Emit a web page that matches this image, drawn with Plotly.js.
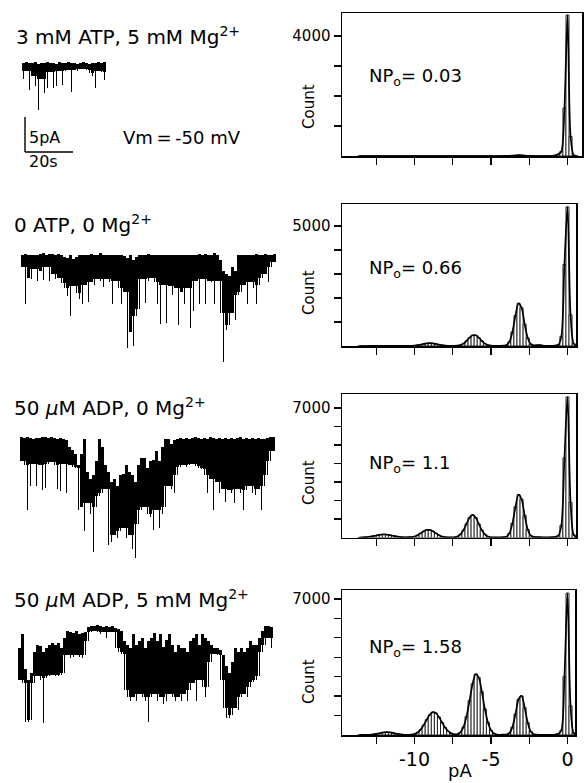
<!DOCTYPE html>
<html><head><meta charset="utf-8">
<script src="https://cdn.plot.ly/plotly-3.0.1.min.js"></script>
<style>html,body{margin:0;padding:0;background:#fff;overflow:hidden}#chart{width:584px;height:783px}</style>
</head><body><div id="chart"></div>
<script>
// ---------- DATA ----------
const conditionLabels = [
  '3 mM ATP, 5 mM Mg<sup>2+</sup>',
  '0 ATP, 0 Mg<sup>2+</sup>',
  '50 <i>\u03bc</i>M ADP, 0 Mg<sup>2+</sup>',
  '50 <i>\u03bc</i>M ADP, 5 mM Mg<sup>2+</sup>'
];
const npoValues = ['0.03', '0.66', '1.1', '1.58'];
const histTopTickLabels = [4000, 5000, 7000, 7000];
const histYMax = [4770, 5920, 7760, 7460];
const xMajorTicks = [-10, -5, 0];
const xMinorTicks = [-12.5, -7.5, -2.5];
const xAxisTitle = 'pA';
const yAxisTitle = 'Count';
const voltageLabel = 'Vm\u2009=\u2009-50 mV';
const scaleBarPA = 5, scaleBarSeconds = 20, sampleInterval = 1.25; // s per trace sample

// amplitude histogram bins (pA)
const binCenters = [-13.6,-13.4,-13.2,-13.0,-12.8,-12.6,-12.4,-12.2,-12.0,-11.8,-11.6,-11.4,-11.2,-11.0,-10.8,-10.6,-10.4,-10.2,-10.0,-9.8,-9.6,-9.4,-9.2,-9.0,-8.8,-8.6,-8.4,-8.2,-8.0,-7.8,-7.6,-7.4,-7.2,-7.0,-6.8,-6.6,-6.4,-6.2,-6.0,-5.8,-5.6,-5.4,-5.2,-5.0,-4.8,-4.6,-4.4,-4.2,-4.0,-3.8,-3.6,-3.4,-3.2,-3.0,-2.8,-2.6,-2.4,-2.2,-2.0,-1.8,-1.6,-1.4,-1.2,-1.0,-0.8,-0.6,-0.4,-0.2,0.0,0.2,0.4,0.6];
const countsATPMg = [0,0,0,0,0,0,0,0,0,0, 0,0,0,0,0,0,0,0,0,0, 0,0,0,0,0,0,0,0,0,0, 0,0,0,0,0,0,0,0,0,0, 0,0,0,0,0,0,0,2,4,6, 10,20,28,25,12,5,2,0,0,0, 0,0,0,2,20,60,150,1600,4700,650,30,0];
const countsNoATP = [0,0,0,0,2,3,3,4,4,3, 3,3,4,4,5,5,6,10,16,33, 58,87,111,120,111,87,58,33,16,8, 5,5,12,37,100,210,347,446,446,347, 210,100,37,12,6,5,6,12,35,171, 584,1272,1775,1590,911,335,80,25,40,40, 20,10,8,10,20,50,400,3400,5800,1300,100,0];
const countsADP = [0,6,16,33,59,94,131,159,170,159, 131,94,59,33,18,12,15,24,57,125, 227,337,410,410,337,227,125,57,21,10, 8,14,53,165,396,741,1076,1220,1076,741, 396,165,53,15,8,6,8,15,42,223, 763,1661,2317,2068,1189,437,103,30,25,15, 10,8,10,15,30,100,650,4300,7600,1900,150,0];
const countsADPMg = [0,2,4,8,20,42,73,109,138,150, 138,109,73,42,22,12,10,20,52,130, 278,507,787,1041,1174,1128,924,644,383,194, 84,35,40,139,406,951,1774,2639,3128,2955, 2227,1337,640,244,74,25,12,18,20,98, 406,1079,1839,2009,1408,633,182,40,20,12, 8,6,8,12,25,60,240,3000,7300,1500,100,0];

// current traces: per sample upper and lower envelope (pA)
const trace1Top = [0.3,0.4,0.3,0.3,0.4,0.2,0.3,0.3,0.4,0.3,0.3,0.2,0.4,0.3,0.3,0.4,0.3,0.3,0.2,0.3,0.4,0.3,0.2,0.3,0.3,0.4,0.3,0.4];
const trace1Bottom = [-2.0,-0.8,-3.5,-1.5,-3.0,-6.4,-2.0,-4.0,-3.3,-1.0,-3.3,-3.0,-0.8,-2.8,-0.8,-0.7,-3.8,-0.7,-0.9,-0.6,-0.6,-0.7,-1.2,-1.5,-3.3,-0.8,-1.0,-2.2];
const trace2Top = [0.3,0.4,0.3,0.2,0.3,0.3,0.4,0.5,0.3,0.4, 0.4,0.3,0.4,0.3,0.0,-0.2,0.2,-0.3,-0.1,0.2, 0.2,0.3,0.2,0.4,0.3,0.3,0.5,0.3,0.2,0.3, 0.3,0.2,0.3,0.2,0.1,-0.2,0.2,-0.5,0.0,0.2, 0.3,0.3,0.4,0.3,0.3,0.3,0.2,0.3,0.3,0.2, 0.3,0.3,0.2,0.3,0.3,0.2,0.3,0.3,0.3,0.4, 0.3,0.4,0.3,0.3,0.5,0.3,-0.5,-2.0,-2.5,-2.8, -1.5,-2.0,0.2,0.3,0.3,0.2,0.3,0.3,0.4,0.3, 0.3,0.4,0.3,0.3,0.4];
const trace2Bottom = [-1.5,-6.8,-3.0,-3.2,-1.8,-3.4,-2.0,-3.3,-1.5,-3.5, -2.5,-3.2,-3.0,-3.8,-4.5,-5.6,-8.4,-4.2,-5.2,-6.0, -6.7,-4.0,-6.5,-3.6,-4.0,-3.2,-3.5,-4.3,-3.2,-3.6, -6.7,-3.4,-4.5,-6.8,-5.0,-13.0,-10.7,-12.8,-8.5,-7.5, -3.2,-6.6,-3.4,-3.0,-3.6,-6.8,-9.6,-4.0,-9.5,-4.2, -5.5,-4.5,-9.8,-5.0,-6.8,-4.5,-10.2,-7.8,-3.4,-6.7, -3.2,-6.8,-3.4,-3.6,-6.7,-3.5,-8.0,-15.0,-10.5,-9.8, -8.0,-9.0,-5.5,-5.0,-4.0,-6.8,-3.6,-4.5,-6.7,-4.0, -3.0,-2.5,-3.6,-1.5,-0.8];
const trace3Top = [0.5,0.3,0.4,0.3,0.2,0.3,0.3,0.4,0.4,0.3, 0.5,0.3,0.2,0.3,0.2,0.0,-1.0,-1.4,-2.0,-3.5, -2.0,0.2,-4.5,-5.5,-5.0,-3.0,0.2,-1.0,-3.5,-4.5, -6.0,-5.5,-6.5,-5.0,-4.8,-3.5,-4.5,-5.0,-6.0,-3.5, -2.5,-2.5,-4.0,-3.0,-2.8,-1.5,-3.0,-1.0,0.2,0.1, -0.5,0.0,0.2,0.3,0.2,0.3,0.2,0.3,0.4,0.3, 0.2,0.3,0.2,0.4,0.3,0.2,0.3,0.2,0.3,0.2, 0.3,0.2,0.3,0.4,0.2,0.3,0.2,0.3,0.2,0.3, 0.2,0.2,0.3,0.4,0.5];
const trace3Bottom = [-3.0,-3.5,-10.0,-6.5,-3.4,-6.6,-3.6,-7.2,-6.8,-3.4, -3.2,-3.5,-7.0,-7.3,-3.4,-7.5,-3.5,-3.8,-4.0,-10.0, -9.5,-13.0,-9.0,-10.5,-16.0,-9.5,-8.0,-7.5,-7.0,-15.0, -14.5,-13.5,-14.0,-13.0,-12.5,-14.0,-13.5,-15.5,-16.8,-12.0, -10.0,-9.5,-10.5,-11.0,-12.8,-10.0,-12.5,-10.5,-9.5,-6.5, -7.0,-7.5,-5.0,-3.8,-3.6,-3.8,-3.5,-3.4,-3.7,-4.0, -4.2,-5.0,-7.5,-5.5,-10.0,-6.0,-7.5,-7.0,-8.8,-7.2, -7.5,-9.0,-7.0,-7.5,-10.0,-7.2,-6.5,-7.5,-7.8,-7.0, -10.0,-6.5,-5.0,-3.0,-1.5];
const trace4Top = [-3.0,-1.0,-6.0,-7.5,-6.5,-3.5,-2.5,-2.6,-3.5,-3.0, -2.5,-2.3,-2.5,-2.3,-3.0,-1.5,-0.5,-0.6,-0.8,-0.5, -1.0,-0.8,-0.6,0.1,0.2,0.2,0.3,0.2,0.1,0.2, 0.1,0.2,-0.1,-0.3,-0.5,-2.0,-2.5,-3.0,-1.0,-2.5, -2.0,-1.5,-3.0,-2.0,-1.5,-0.8,-2.0,-1.0,-2.8,-1.8, -1.0,-2.5,-3.5,-2.5,-3.0,-3.0,-3.5,-2.0,-1.5,-1.0, -2.5,-1.0,-1.5,-2.0,-2.5,-3.0,-3.0,-3.2,-4.0,-5.5, -6.5,-5.0,-3.0,-3.5,-3.0,-3.5,-3.0,-2.0,-2.5,-2.5, -1.5,-0.5,0.2,0.2,0.1];
const trace4Bottom = [-7.5,-8.0,-13.5,-13.5,-13.2,-8.0,-7.0,-7.5,-13.7,-7.2, -7.0,-6.8,-7.0,-6.9,-6.8,-6.5,-4.0,-4.4,-4.2,-4.0, -4.3,-4.4,-4.0,-2.0,-0.6,-0.5,-0.6,-1.0,-0.6,-1.5, -0.6,-0.7,-3.0,-3.5,-3.8,-9.0,-10.0,-10.5,-10.0,-10.5, -9.5,-10.0,-10.5,-13.5,-10.0,-9.5,-10.5,-10.0,-11.0,-10.5, -9.5,-10.0,-10.5,-10.0,-10.5,-9.5,-10.5,-9.0,-8.0,-10.5, -7.5,-8.5,-10.0,-8.5,-5.0,-3.8,-4.0,-7.5,-11.5,-13.0, -13.0,-12.5,-11.5,-11.8,-10.0,-9.5,-10.0,-8.5,-7.8,-7.5, -7.0,-3.5,-2.5,-1.5,-3.0];

// ---------- LAYOUT GEOMETRY (pixels) ----------
const W = 584, H = 783;
const fx = p => p / W, fy = p => 1 - p / H;
const FONT = 'DejaVu Sans, Verdana, sans-serif';
const PX_PER_SAMPLE = 3, PX_PER_PA = 7;

const tracePanels = [
  {top: trace1Top, bottom: trace1Bottom, left: 22, yTop: 55, yBottom: 160, baseline: 65},
  {top: trace2Top, bottom: trace2Bottom, left: 21, yTop: 245, yBottom: 370, baseline: 256.7},
  {top: trace3Top, bottom: trace3Bottom, left: 20, yTop: 428, yBottom: 566, baseline: 440},
  {top: trace4Top, bottom: trace4Bottom, left: 18, yTop: 616, yBottom: 730, baseline: 627.3}
];
const histPanels = [
  {counts: countsATPMg, top: 13, bottom: 156, right: 582, npoY: 77, countY: 106, titleY: 36},
  {counts: countsNoATP, top: 204, bottom: 346, right: 576, npoY: 269, countY: 292, titleY: 224},
  {counts: countsADP, top: 394, bottom: 537.5, right: 576, npoY: 464, countY: 482, titleY: 407},
  {counts: countsADPMg, top: 590, bottom: 735, right: 575, npoY: 648, countY: 681, titleY: 599}
];
const histLeft = 342, zeroPx = 567.5, pxPerPA = 15.3;

const data = [];
const layout = {
  width: W, height: H, margin: {l: 0, r: 0, t: 0, b: 0},
  paper_bgcolor: '#fff', plot_bgcolor: 'rgba(0,0,0,0)',
  showlegend: false, bargap: 0,
  font: {family: FONT, color: '#000', size: 15},
  annotations: [], shapes: []
};

tracePanels.forEach((p, k) => {
  const id = k + 1;
  const n = p.top.length;
  const idx = p.top.map((_, i) => i);
  // solid core of the record: the level reached by a sample and both its neighbours
  const core = p.bottom.map((b, i) => Math.min(p.top[i], Math.max(b, p.bottom[i - 1] ?? b, p.bottom[i + 1] ?? b)));
  data.push({
    type: 'bar', x: idx, y: p.top.map((t, i) => t - core[i]), base: core,
    width: 1, marker: {color: '#000', line: {width: 0}},
    xaxis: 'x' + id, yaxis: 'y' + id, hoverinfo: 'skip'
  });
  data.push({
    type: 'bar', x: idx, y: p.top.map((t, i) => t - p.bottom[i]), base: p.bottom,
    width: 0.5, marker: {color: '#000', line: {width: 0}},
    xaxis: 'x' + id, yaxis: 'y' + id, hoverinfo: 'skip'
  });
  const ax = {domain: [fx(p.left), fx(p.left + n * PX_PER_SAMPLE)], range: [-0.5, n - 0.5], visible: false, fixedrange: true, anchor: 'y' + id};
  const ay = {domain: [fy(p.yBottom), fy(p.yTop)], range: [-(p.yBottom - p.baseline) / PX_PER_PA, (p.baseline - p.yTop) / PX_PER_PA], visible: false, fixedrange: true, anchor: 'x' + id};
  layout['xaxis' + (id === 1 ? '' : id)] = ax;
  layout['yaxis' + (id === 1 ? '' : id)] = ay;
});
layout.barmode = 'overlay';

// scale bar drawn in first trace's data units
const sbX0 = 0.5, sbY0 = -12.43;
layout.shapes.push({type: 'line', xref: 'x', yref: 'y', x0: sbX0, x1: sbX0, y0: sbY0, y1: sbY0 + scaleBarPA, line: {color: '#000', width: 1.4}});
layout.shapes.push({type: 'line', xref: 'x', yref: 'y', x0: sbX0, x1: sbX0 + scaleBarSeconds / sampleInterval, y0: sbY0, y1: sbY0, line: {color: '#000', width: 1.4}});

histPanels.forEach((p, k) => {
  const id = k + 5;
  const ymax = histYMax[k];
  data.push({
    type: 'bar', x: binCenters, y: p.counts, width: 0.2,
    marker: {color: '#fff', line: {color: '#000', width: 0.8}},
    xaxis: 'x' + id, yaxis: 'y' + id, hoverinfo: 'skip'
  });
  data.push({
    type: 'scatter', mode: 'lines', x: binCenters, y: p.counts,
    line: {color: '#000', width: 1.7, shape: 'spline', smoothing: 0.8},
    xaxis: 'x' + id, yaxis: 'y' + id, hoverinfo: 'skip'
  });
  const yMinor = [];
  for (let v = 1000; v < histTopTickLabels[k]; v += 1000) yMinor.push(v);
  const tickStyle = {ticks: 'outside', ticklen: 7, tickwidth: 1.3, tickcolor: '#000'};
  layout['xaxis' + id] = Object.assign({
    domain: [fx(histLeft), fx(p.right)],
    range: [(histLeft - zeroPx) / pxPerPA, (p.right - zeroPx) / pxPerPA], anchor: 'y' + id,
    showline: true, mirror: true, linecolor: '#000', linewidth: 1.5,
    tickmode: 'array', tickvals: xMajorTicks, ticktext: xMajorTicks.map(String), showticklabels: k === 3,
    minor: Object.assign({tickmode: 'array', tickvals: xMinorTicks, showgrid: false}, tickStyle),
    tickfont: {size: 19, family: FONT}, showgrid: false, zeroline: false, fixedrange: true
  }, tickStyle);
  layout['yaxis' + id] = Object.assign({
    domain: [fy(p.bottom), fy(p.top)], range: [0, ymax], anchor: 'x' + id,
    showline: true, mirror: true, linecolor: '#000', linewidth: 1.5,
    tickmode: 'array', tickvals: [histTopTickLabels[k]], ticktext: [String(histTopTickLabels[k])],
    minor: Object.assign({tickmode: 'array', tickvals: yMinor, showgrid: false}, tickStyle),
    tickfont: {size: 15, family: FONT}, showgrid: false, zeroline: false, fixedrange: true
  }, tickStyle);
  // condition title
  layout.annotations.push({xref: 'paper', yref: 'paper', x: fx(k === 0 ? 14 : 12), y: fy(p.titleY), xanchor: 'left', yanchor: 'middle',
    text: conditionLabels[k], showarrow: false, font: {size: 20, family: FONT}});
  // NPo
  layout.annotations.push({xref: 'paper', yref: 'paper', x: fx(367), y: fy(p.npoY), xanchor: 'left', yanchor: 'middle',
    text: 'NP<sub>o</sub>= ' + npoValues[k], showarrow: false, font: {size: 18, family: FONT}});
  // Count
  layout.annotations.push({xref: 'paper', yref: 'paper', x: fx(309), y: fy(p.countY), xanchor: 'center', yanchor: 'middle',
    text: yAxisTitle, textangle: -90, showarrow: false, font: {size: 15, family: FONT}});
});

layout.annotations.push({xref: 'paper', yref: 'paper', x: fx(460), y: fy(770), xanchor: 'center', yanchor: 'middle',
  text: xAxisTitle, showarrow: false, font: {size: 18, family: FONT}});
layout.annotations.push({xref: 'paper', yref: 'paper', x: fx(27), y: fy(138), xanchor: 'left', yanchor: 'middle',
  text: scaleBarPA + 'pA', showarrow: false, font: {size: 16, family: FONT}});
layout.annotations.push({xref: 'paper', yref: 'paper', x: fx(27), y: fy(162), xanchor: 'left', yanchor: 'middle',
  text: scaleBarSeconds + 's', showarrow: false, font: {size: 16, family: FONT}});
layout.annotations.push({xref: 'paper', yref: 'paper', x: fx(121), y: fy(138), xanchor: 'left', yanchor: 'middle',
  text: voltageLabel, showarrow: false, font: {size: 18, family: FONT}});

Plotly.newPlot('chart', data, layout, {staticPlot: true, displayModeBar: false});
</script></body></html>
